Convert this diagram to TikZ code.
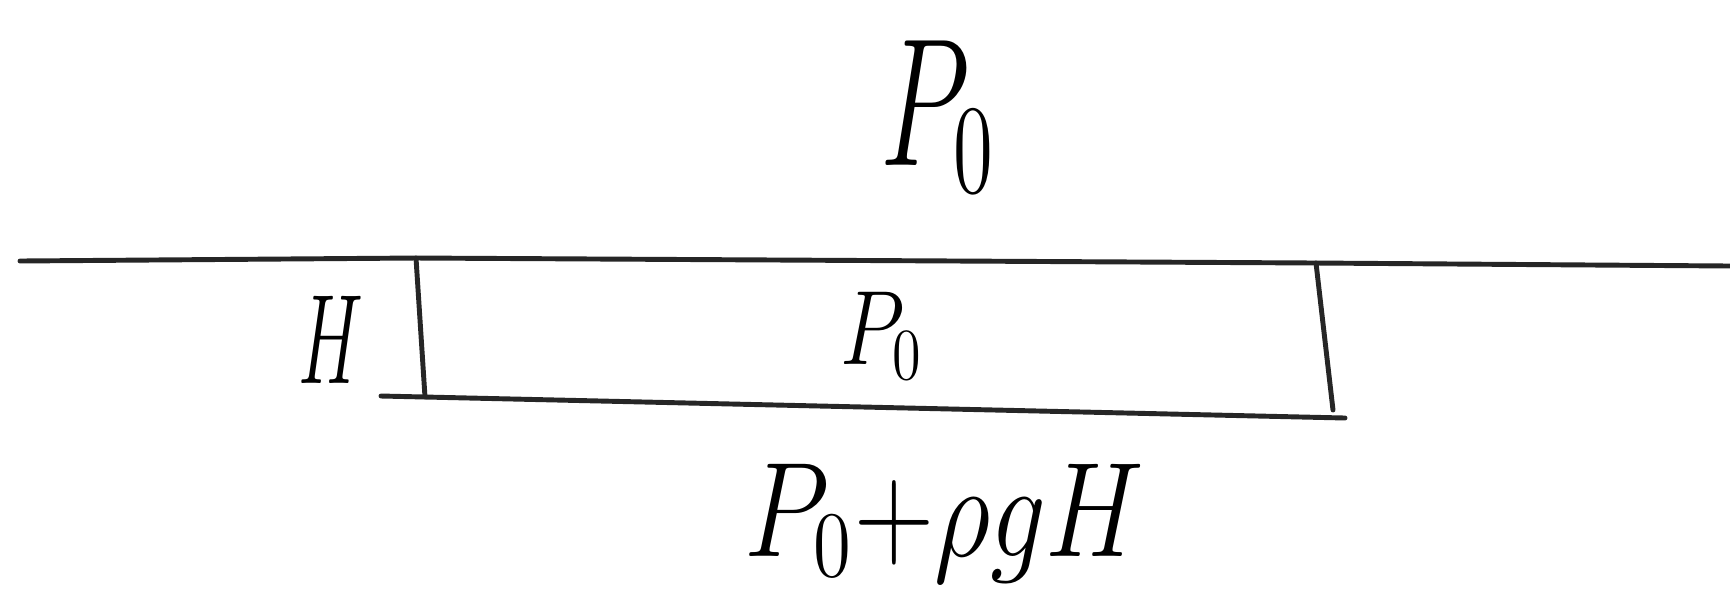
\documentclass[tikz,border=0pt]{standalone}
\begin{document}
\begin{tikzpicture}[x=0.01cm,y=-0.01cm,
  stroke/.style={line width=1.4pt,line cap=round,line join=round,black!85},
  lbl/.style={inner sep=0pt,outer sep=0pt,anchor=base west,transform shape,
    font=\fontsize{20}{24}\selectfont}]
\useasboundingbox[fill=white] (0,0) rectangle (1730,596);
% corner coordinates
\coordinate (L) at (20,261);
\coordinate (TL) at (416,258);
\coordinate (TR) at (1316,263);
\coordinate (R) at (1730,266);
\coordinate (BL) at (425,397);
\coordinate (BLx) at (381,396);
\coordinate (BR) at (1345,418);
\coordinate (BRe) at (1333,410);
% surface line and plate
\draw[stroke] (L) -- (TL) -- (TR) -- (R);
\draw[stroke] (TL) -- (BL);
\draw[stroke] (BLx) -- (BR);
\draw[stroke] (TR) -- (BRe);
% labels
\node[lbl,xscale=1.6,yscale=2.5] (ptop) at (880,165) {$P_0$};
\node[lbl,xscale=1.15,yscale=1.45] (pin) at (840,364) {$P_0$};
\node[lbl,xscale=1.0,yscale=1.75] (h) at (298,383) {$H$};
\node[lbl,xscale=1.52,yscale=1.85] (pbot) at (744,556) {$P_0{+}\rho g H$};
\end{tikzpicture}
\end{document}
